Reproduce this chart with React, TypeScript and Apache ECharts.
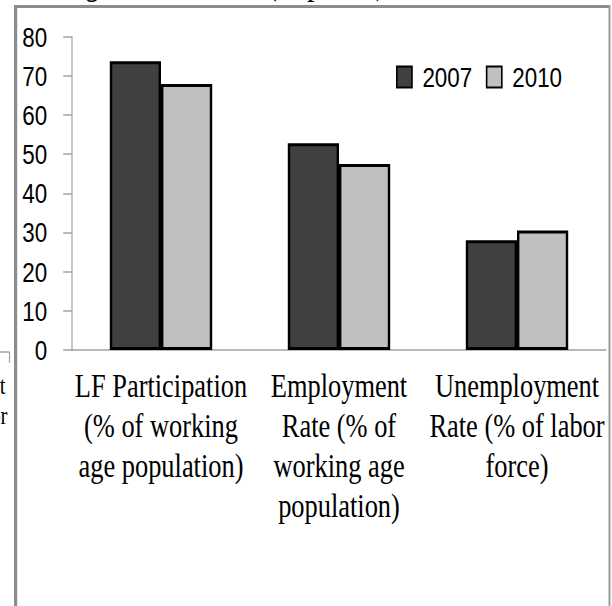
import React, { useEffect, useRef } from "react";
import * as echarts from "echarts";

// Indicator categories and yearly values (percent)
const categories = [
  "LF Participation\n(% of working\nage population)",
  "Employment\nRate (% of\nworking age\npopulation)",
  "Unemployment\nRate (% of labor\nforce)",
];
const years = ["2007", "2010"];
const values2007 = [73.7, 52.8, 28.0];
const values2010 = [67.9, 47.5, 30.5];
const yMin = 0;
const yMax = 80;
const yStep = 10;

// The figure is laid out wide and compressed horizontally
const SQUEEZE = 0.8;
const PAGE_W = 612;
const PAGE_H = 606;
const W = PAGE_W / SQUEEZE;
const px = (x: number) => x / SQUEEZE; // page x -> chart x

const SERIF = "'Liberation Serif', 'Times New Roman', serif";
const SANS = "'Liberation Sans', Arial, sans-serif";
const AXIS_GRAY = "#a3a3a3";
const FRAME_GRAY = "#8c8c8c";

export default function App() {
  const ref = useRef<HTMLDivElement>(null);

  useEffect(() => {
    if (!ref.current) return;
    const chart = echarts.init(ref.current, undefined, { renderer: "svg" });
    chart.setOption({
      animation: false,
      backgroundColor: "#ffffff",
      grid: {
        left: px(72),
        right: W - px(606),
        top: 36.7,
        bottom: PAGE_H - 350,
        containLabel: false,
      },
      legend: {
        data: years,
        icon: "rect",
        left: px(396),
        top: 63,
        padding: 0,
        itemWidth: 19,
        itemHeight: 21,
        itemGap: 17,
        textStyle: {
          fontFamily: SANS,
          fontSize: 28,
          color: "#000",
          lineHeight: 22,
          padding: [0, 0, 0, 8],
        },
      },
      xAxis: {
        type: "category",
        data: categories,
        axisLine: { lineStyle: { color: AXIS_GRAY, width: 1.5 } },
        axisTick: { length: 13, lineStyle: { color: AXIS_GRAY, width: 1.5 } },
        axisLabel: {
          interval: 0,
          margin: 15,
          fontFamily: SERIF,
          fontSize: 33,
          lineHeight: 40,
          color: "#000",
          align: "center",
        },
      },
      yAxis: {
        type: "value",
        min: yMin,
        max: yMax,
        interval: yStep,
        splitLine: { show: false },
        axisLine: { show: true, lineStyle: { color: AXIS_GRAY, width: 1.5 } },
        axisTick: { show: true, length: 11, lineStyle: { color: AXIS_GRAY, width: 1.5 } },
        axisLabel: {
          margin: 31,
          fontFamily: SANS,
          fontSize: 28,
          color: "#000",
        },
      },
      series: [
        {
          name: years[0],
          type: "bar",
          data: values2007,
          barWidth: 64,
          barGap: "0%",
          itemStyle: { color: "#404040", borderColor: "#000", borderWidth: 3 },
        },
        {
          name: years[1],
          type: "bar",
          data: values2010,
          barWidth: 64,
          barGap: "0%",
          itemStyle: { color: "#c0c0c0", borderColor: "#000", borderWidth: 3 },
        },
      ],
      graphic: [
        // page frame
        {
          type: "rect",
          shape: { x: px(15), y: 5, width: px(610) - px(15), height: 3 },
          style: { fill: FRAME_GRAY },
          silent: true,
        },
        {
          type: "rect",
          shape: { x: px(14), y: 5, width: px(3.2), height: PAGE_H },
          style: { fill: FRAME_GRAY },
          silent: true,
        },
        {
          type: "rect",
          shape: { x: px(608.5), y: 5, width: px(2), height: PAGE_H },
          style: { fill: "#9a9a9a" },
          silent: true,
        },
        // heading running along the top edge
        {
          type: "text",
          x: px(85) - 12.192 * 35,
          y: -17.5,
          style: {
            text: "Labor Market Outcomes during the Recession (% points)",
            font: `35px ${SERIF}`,
            fill: "#000",
            align: "left",
            verticalAlign: "middle",
          },
          silent: true,
        },
        // edge of the neighbouring panel
        {
          type: "line",
          shape: { x1: 0, y1: 352, x2: px(9.5), y2: 352 },
          style: { stroke: AXIS_GRAY, lineWidth: 1.5 },
          silent: true,
        },
        {
          type: "line",
          shape: { x1: px(9.5), y1: 352, x2: px(9.5), y2: 363 },
          style: { stroke: AXIS_GRAY, lineWidth: 1.5 },
          silent: true,
        },
        {
          type: "text",
          x: px(5.5),
          y: 385,
          style: {
            text: "Unemployment",
            font: `26px ${SERIF}`,
            fill: "#000",
            align: "right",
            verticalAlign: "middle",
          },
          silent: true,
        },
        {
          type: "text",
          x: px(7.5),
          y: 415,
          style: {
            text: "Rate (% of labor",
            font: `26px ${SERIF}`,
            fill: "#000",
            align: "right",
            verticalAlign: "middle",
          },
          silent: true,
        },
      ],
    });
    return () => chart.dispose();
  }, []);

  return (
    <div
      ref={ref}
      style={{
        position: "fixed",
        left: 0,
        top: 0,
        width: `${W}px`,
        height: `${PAGE_H}px`,
        transform: `scaleX(${SQUEEZE})`,
        transformOrigin: "0 0",
        background: "#fff",
      }}
    />
  );
}
